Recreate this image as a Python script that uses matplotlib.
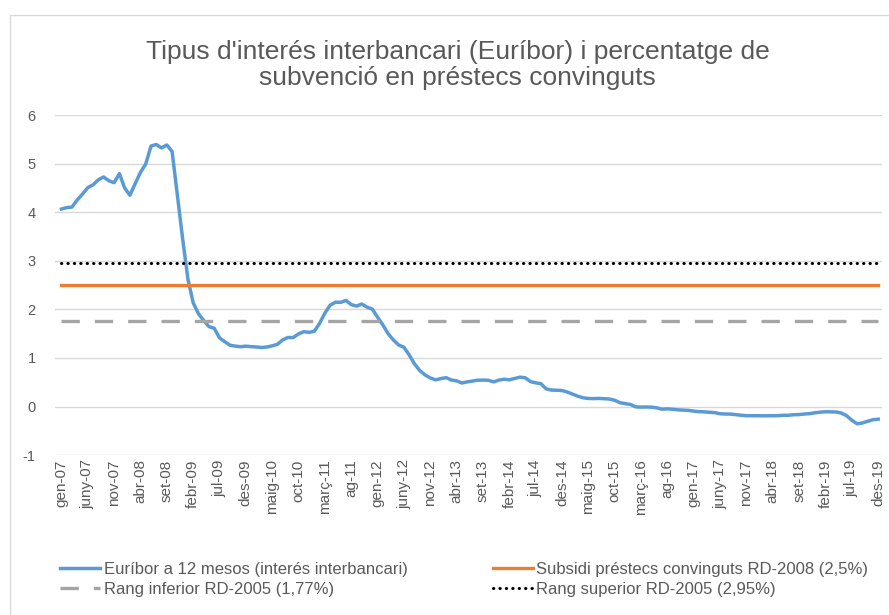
import numpy as np
import matplotlib.pyplot as plt
from matplotlib.patches import Rectangle

plt.rcParams['font.family'] = ['Liberation Sans', 'DejaVu Sans']

# Euribor 12 months, monthly, gen-2007 .. des-2019
euribor = [
    4.064, 4.094, 4.106, 4.253, 4.373, 4.505, 4.564, 4.666, 4.725, 4.647, 4.607, 4.793,
    4.498, 4.349, 4.590, 4.820, 4.994, 5.361, 5.393, 5.323, 5.384, 5.248, 4.350, 3.452,
    2.622, 2.135, 1.909, 1.771, 1.644, 1.610, 1.412, 1.334, 1.261, 1.243, 1.231, 1.242,
    1.232, 1.225, 1.215, 1.225, 1.249, 1.281, 1.373, 1.421, 1.420, 1.495, 1.541, 1.526,
    1.550, 1.714, 1.924, 2.086, 2.147, 2.144, 2.183, 2.097, 2.067, 2.110, 2.044, 2.004,
    1.837, 1.678, 1.499, 1.368, 1.266, 1.219, 1.061, 0.877, 0.740, 0.650, 0.588, 0.549,
    0.575, 0.594, 0.545, 0.528, 0.484, 0.507, 0.525, 0.542, 0.543, 0.541, 0.506, 0.543,
    0.562, 0.549, 0.577, 0.604, 0.592, 0.513, 0.488, 0.469, 0.362, 0.338, 0.335, 0.329,
    0.298, 0.255, 0.212, 0.180, 0.165, 0.163, 0.167, 0.161, 0.154, 0.128, 0.079, 0.059,
    0.042, -0.008, -0.012, -0.010, -0.013, -0.028, -0.056, -0.048, -0.057, -0.069, -0.074, -0.080,
    -0.095, -0.106, -0.110, -0.119, -0.127, -0.149, -0.154, -0.156, -0.168, -0.180, -0.189, -0.190,
    -0.189, -0.191, -0.191, -0.190, -0.188, -0.181, -0.180, -0.169, -0.166, -0.154, -0.147, -0.129,
    -0.116, -0.108, -0.109, -0.112, -0.134, -0.190, -0.283, -0.356, -0.339, -0.304, -0.272, -0.261,
]
subsidi = 2.5
rang_inferior = 1.77
rang_superior = 2.95

months = ['gen', 'febr', 'març', 'abr', 'maig', 'juny', 'jul', 'ag', 'set', 'oct', 'nov', 'des']
years = range(2007, 2020)
labels = [f"{m}-{str(y)[2:]}" for y in years for m in months]

x = np.arange(len(euribor))

fig = plt.figure(figsize=(8.89, 6.15), dpi=100)
ax = fig.add_axes([0.062, 0.26, 0.93, 0.553])

# outer chart border
fig.patches.append(Rectangle((10 / 889, -0.01), 1.0, 1 - 15 / 615 + 0.01, transform=fig.transFigure,
                             fill=False, edgecolor='#d9d9d9', linewidth=1))

ax.plot(x, euribor, color='#5B9BD5', linewidth=2.5, label='Euríbor a 12 mesos (interés interbancari)', zorder=3)
ax.plot(x, [subsidi] * len(x), color='#ED7D31', linewidth=2.4,
        label='Subsidi préstecs convinguts RD-2008 (2,5%)', zorder=3)
ax.plot(x, [rang_inferior] * len(x), color='#A5A5A5', linewidth=2.4, linestyle=(0, (5.5, 4.5)),
        label='Rang inferior RD-2005 (1,77%)', zorder=3)
ax.plot(x, [rang_superior] * len(x), color='black', linewidth=2.2, linestyle=(0, (0.1, 2.0)),
        dash_capstyle='round', label='Rang superior RD-2005 (2,95%)', zorder=3)

ax.set_ylim(-1, 6)
ax.set_yticks(range(-1, 7))
ax.set_yticklabels([str(v) for v in range(-1, 7)])
ax.set_xlim(-1.2, len(x) - 0.3)
ax.set_xticks(x[::5])
ax.set_xticklabels(labels[::5], rotation=90)
ax.tick_params(axis='x', length=0, colors='#595959', labelsize=11, pad=3)
ax.tick_params(axis='y', length=0, colors='#595959', labelsize=10.5, pad=14)
ax.grid(axis='y', color='#d9d9d9', linewidth=1)
ax.set_axisbelow(True)
for s in ax.spines.values():
    s.set_visible(False)

fig.suptitle("Tipus d'interés interbancari (Euríbor) i percentatge de\nsubvenció en préstecs convinguts",
             x=0.515, y=0.935, fontsize=19, color='#595959', linespacing=1.1)

handles, labs = ax.get_legend_handles_labels()
order = [0, 2, 1, 3]
fig.legend([handles[i] for i in order], [labs[i] for i in order], loc='center left',
           bbox_to_anchor=(0.051, 0.0585), ncol=2, frameon=False, fontsize=12,
           handlelength=2.4, handletextpad=0.2, columnspacing=5.1, labelspacing=0.3,
           labelcolor='#595959')

fig.savefig('out.png', dpi=100)
